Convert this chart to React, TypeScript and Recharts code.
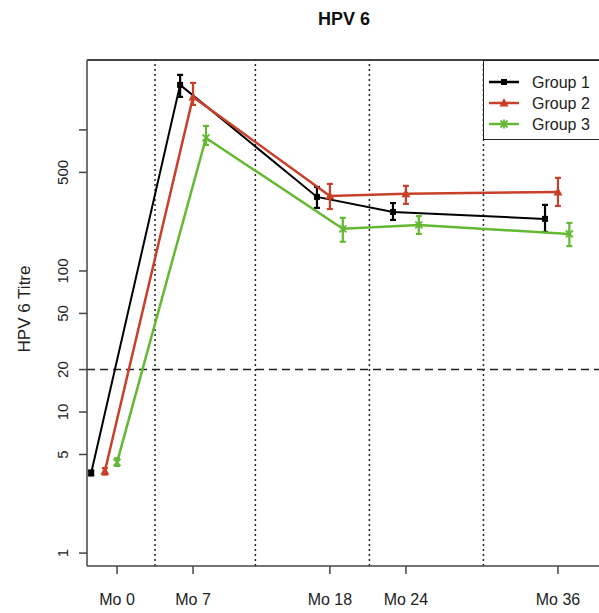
import { ComposedChart, Line, XAxis, YAxis, ErrorBar, ReferenceLine, Legend, Customized } from "recharts";

// visits (x positions are in plot units, not months)
const visits = ["Mo 0", "Mo 7", "Mo 18", "Mo 24", "Mo 36"];
const visitPos = [0, 1, 2.8, 3.8, 5.8];
const dividers = [0.5, 1.82, 3.32, 4.82];
const yTicks = [1, 5, 10, 20, 50, 100, 500, 1000];
const yDomain = [0.81, 3130];
const xDomain = [-0.395, 6.34];
const threshold = 20;

// Group 1
const g1Offset = [-0.34, -0.17, -0.17, -0.17, -0.17];
const g1Mean = [3.7, 2085, 335, 262, 234];
const g1Low = [3.55, 1714, 280, 230, 189];
const g1High = [3.85, 2455, 394, 303, 294];

// Group 2
const g2Offset = [-0.16, 0, 0, 0, 0];
const g2Mean = [3.8, 1714, 340, 352, 363];
const g2Low = [3.6, 1504, 275, 299, 289];
const g2High = [4.0, 2154, 414, 401, 457];

// Group 3
const g3Offset = [0, 0.17, 0.17, 0.17, 0.15];
const g3Mean = [4.4, 877, 199, 212, 183];
const g3Low = [4.15, 783, 161, 183, 150];
const g3High = [4.7, 1067, 238, 245, 219];

const RED = "#c8402a";
const GREEN = "#63b932";
const FONT = "'Liberation Sans', Arial, sans-serif";

function build(offset: number[], mean: number[], low: number[], high: number[]) {
  return visitPos.map((p, i) => ({
    x: p + offset[i],
    y: mean[i],
    err: [mean[i] - low[i], high[i] - mean[i]],
  }));
}

const g1 = build(g1Offset, g1Mean, g1Low, g1High);
const g2 = build(g2Offset, g2Mean, g2Low, g2High);
const g3 = build(g3Offset, g3Mean, g3Low, g3High);

const groups = [
  { name: "Group 1", color: "#000000", data: g1, width: 2 },
  { name: "Group 2", color: RED, data: g2, width: 2.5 },
  { name: "Group 3", color: GREEN, data: g3, width: 2.5 },
];

function Marker({ cx, cy, idx, color }: { cx: number; cy: number; idx: number; color: string }) {
  if (idx === 0) return <rect x={cx - 3} y={cy - 3} width={6} height={6} fill={color} />;
  if (idx === 1)
    return <polygon points={`${cx},${cy - 5} ${cx - 4.5},${cy + 3.5} ${cx + 4.5},${cy + 3.5}`} fill={color} />;
  return (
    <g stroke={color} strokeWidth={1.8}>
      <line x1={cx - 3.5} y1={cy - 3.5} x2={cx + 3.5} y2={cy + 3.5} />
      <line x1={cx - 3.5} y1={cy + 3.5} x2={cx + 3.5} y2={cy - 3.5} />
      <line x1={cx} y1={cy - 4.5} x2={cx} y2={cy + 4.5} />
    </g>
  );
}

function YTick(props: any) {
  const { x, y, payload } = props;
  if (payload.value === 1000) return <g />;
  return (
    <text
      transform={`translate(${x - 9},${y}) rotate(-90)`}
      textAnchor="middle"
      fontSize={15}
      fontFamily={FONT}
      fill="#222"
    >
      {payload.value}
    </text>
  );
}

function LegendBox(props: any) {
  const payload = props.payload || [];
  return (
    <div style={{ border: "1px solid #222", height: 80, width: 130, background: "#fff", boxSizing: "border-box", paddingTop: 10 }}>
      <svg width={130} height={70}>
        {payload.map((p: any, i: number) => (
          <g key={p.value}>
            <line x1={5} x2={35} y1={11 + i * 21} y2={11 + i * 21} stroke={p.color} strokeWidth={2.5} />
            <Marker cx={20} cy={11 + i * 21} idx={i} color={p.color} />
            <text x={48} y={17 + i * 21} fontSize={16} fontFamily={FONT} fill="#222">
              {p.value}
            </text>
          </g>
        ))}
      </svg>
    </div>
  );
}

export default function App() {
  return (
    <div style={{ position: "absolute", left: 0, top: 0, width: 599, height: 613, overflow: "hidden", background: "#fff" }}>
      <ComposedChart width={599} height={613} margin={{ top: 60, right: 0, bottom: 0, left: 0 }}>
        <XAxis
          type="number"
          dataKey="x"
          domain={xDomain}
          allowDataOverflow
          ticks={visitPos}
          interval={0}
          tickFormatter={(v: number) => visits[visitPos.indexOf(v)] ?? ""}
          height={47}
          tickSize={8}
          tickMargin={20}
          tick={{ fontSize: 16, fontFamily: FONT, fill: "#222" }}
          axisLine={{ stroke: "#444", strokeWidth: 1.5 }}
          tickLine={{ stroke: "#444", strokeWidth: 1.5 }}
        />
        <YAxis
          type="number"
          scale="log"
          domain={yDomain}
          allowDataOverflow
          ticks={yTicks}
          interval={0}
          width={87}
          tickSize={8}
          tick={<YTick />}
          axisLine={{ stroke: "#444", strokeWidth: 1.5 }}
          tickLine={{ stroke: "#444", strokeWidth: 1.5 }}
        />
        <ReferenceLine y={yDomain[1]} stroke="#444" strokeWidth={2} />
        {dividers.map((d) => (
          <ReferenceLine key={d} x={d} stroke="#222" strokeWidth={1.5} strokeDasharray="2 3" />
        ))}
        <ReferenceLine y={threshold} stroke="#222" strokeWidth={1.5} strokeDasharray="8 5" />
        {groups.map((g, gi) => (
          <Line
            key={g.name}
            name={g.name}
            data={g.data}
            dataKey="y"
            stroke={g.color}
            strokeWidth={g.width}
            isAnimationActive={false}
            dot={(p: any) => <Marker key={`${gi}-${p.index}`} cx={p.cx} cy={p.cy} idx={gi} color={g.color} />}
            activeDot={false}
          >
            <ErrorBar dataKey="err" direction="y" width={3} strokeWidth={2.2} stroke={g.color} />
          </Line>
        ))}
        <Legend
          layout="horizontal"
          align="center"
          verticalAlign="middle"
          wrapperStyle={{ left: 483, top: 60, width: 130 }}
          content={<LegendBox />}
        />
        <Customized
          component={() => (
            <g fontFamily={FONT}>
              <text x={344} y={25} textAnchor="middle" fontSize={18} fontWeight="bold" fill="#111">
                HPV 6
              </text>
              <text transform="translate(30,309) rotate(-90)" textAnchor="middle" fontSize={17} fill="#222">
                HPV 6 Titre
              </text>
            </g>
          )}
        />
      </ComposedChart>
    </div>
  );
}
